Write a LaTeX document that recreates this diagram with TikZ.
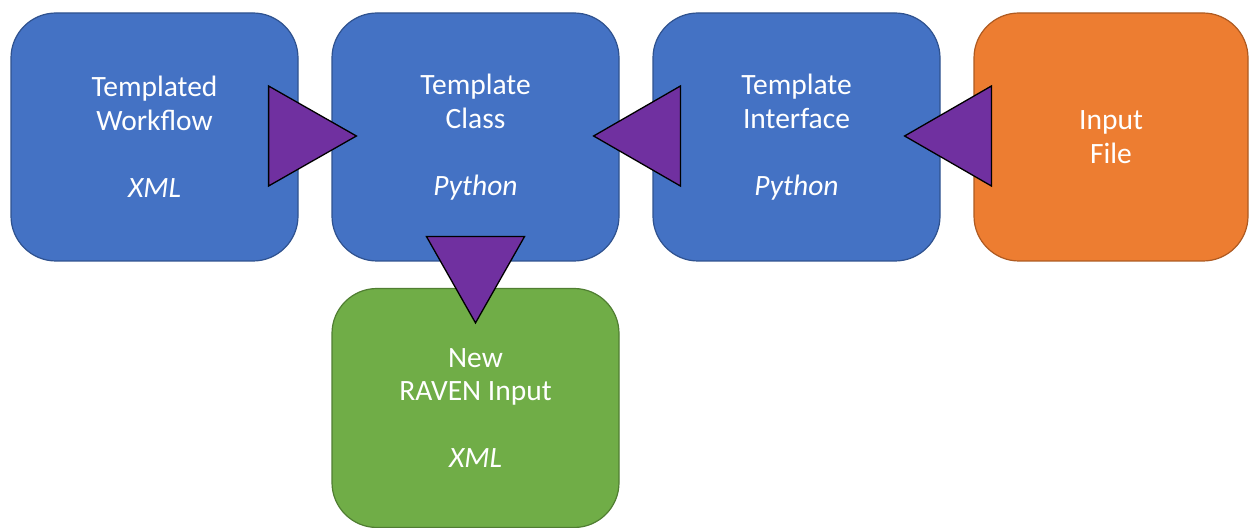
\documentclass[tikz,border=0pt]{standalone}
\usepackage{fontspec}
\setmainfont{Carlito}
\usetikzlibrary{calc}
\definecolor{boxblue}{HTML}{4472C4}
\definecolor{boxblueline}{HTML}{2F528F}
\definecolor{boxorange}{HTML}{ED7D31}
\definecolor{boxorangeline}{HTML}{AE5A21}
\definecolor{boxgreen}{HTML}{70AD47}
\definecolor{boxgreenline}{HTML}{507E32}
\definecolor{tripurple}{HTML}{7030A0}

\begin{document}
\begin{tikzpicture}[x=1pt, y=1pt,
    blockbox/.style={rectangle, rounded corners=45pt, line width=1.2pt, align=center,
        minimum width=287pt, minimum height=248pt, text=white, inner sep=0pt,
        font=\fontsize{29.5}{33.5}\selectfont},
    bluebox/.style={blockbox, fill=boxblue, draw=boxblueline},
    orangebox/.style={blockbox, fill=boxorange, draw=boxorangeline, minimum width=274pt},
    greenbox/.style={blockbox, fill=boxgreen, draw=boxgreenline, minimum height=239pt},
    arrowtri/.style={fill=tripurple, draw=black, line width=1.3pt, line join=miter}]
    \useasboundingbox (0,0) rectangle (1249,527);

    % Boxes
    \node (workflow) [bluebox] at (154.5,390) {Templated\\Workflow\\\strut\\\textit{XML}};
    \node (class) [bluebox] at (475.5,390) {Template\\Class\\\strut\\\textit{Python}};
    \node (interface) [bluebox] at (796.5,390) {Template\\Interface\\\strut\\\textit{Python}};
    \node (input) [orangebox] at (1111,390) {Input\\File};
    \node (raven) [greenbox] at (475.5,119) {New\\RAVEN Input\\\strut\\\textit{XML}};

    % Triangles
    \filldraw[arrowtri] ($(workflow.east)+(-30,51)$) -- ($(workflow.east)+(-30,-49)$) -- ($(class.west)+(25,1)$) -- cycle;
    \filldraw[arrowtri] ($(interface.west)+(28,51)$) -- ($(interface.west)+(28,-49)$) -- ($(class.east)+(-26,1)$) -- cycle;
    \filldraw[arrowtri] ($(input.west)+(18,51)$) -- ($(input.west)+(18,-49)$) -- ($(interface.east)+(-36,1)$) -- cycle;
    \filldraw[arrowtri] ($(class.south)+(-49,25)$) -- ($(class.south)+(49,25)$) -- ($(raven.north)+(0,-35)$) -- cycle;
\end{tikzpicture}
\end{document}
